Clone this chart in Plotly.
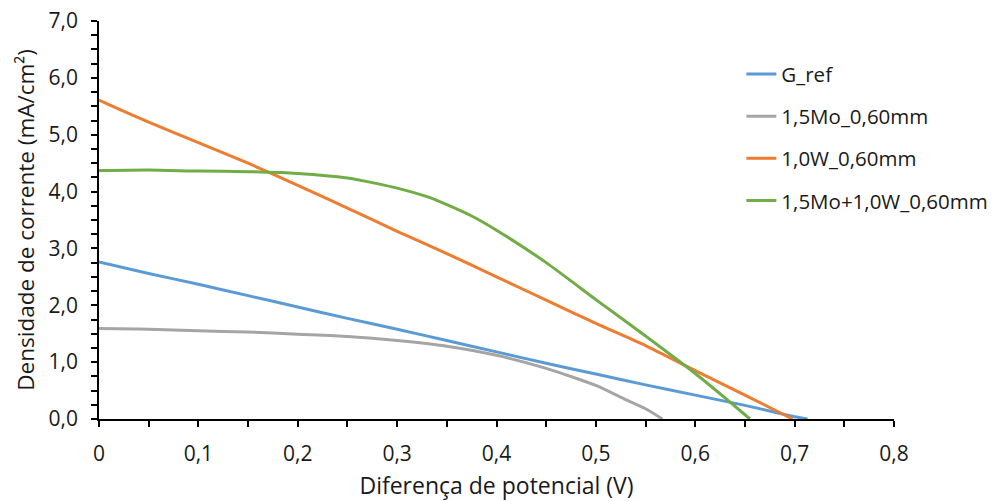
import plotly.graph_objects as go

# Current density vs. potential difference for each sample
v_gref = [0.0, 0.05, 0.1, 0.15, 0.2, 0.25, 0.3, 0.35, 0.4, 0.45, 0.5, 0.55, 0.6, 0.65, 0.68, 0.70, 0.713]
j_gref = [2.76, 2.56, 2.37, 2.17, 1.97, 1.77, 1.58, 1.38, 1.18, 0.98, 0.79, 0.60, 0.42, 0.24, 0.12, 0.04, 0.0]

v_mo = [0.0, 0.05, 0.1, 0.15, 0.2, 0.25, 0.3, 0.35, 0.4, 0.45, 0.5, 0.53, 0.55, 0.567]
j_mo = [1.59, 1.58, 1.55, 1.53, 1.49, 1.45, 1.38, 1.28, 1.12, 0.89, 0.59, 0.34, 0.18, 0.0]

v_w = [0.0, 0.02, 0.05, 0.1, 0.15, 0.2, 0.25, 0.3, 0.35, 0.4, 0.45, 0.5, 0.55, 0.6, 0.65, 0.698]
j_w = [5.61, 5.45, 5.22, 4.86, 4.50, 4.11, 3.71, 3.30, 2.91, 2.50, 2.09, 1.68, 1.29, 0.85, 0.42, 0.0]

v_mow = [0.0, 0.05, 0.1, 0.15, 0.2, 0.25, 0.28, 0.3, 0.33, 0.35, 0.375, 0.4, 0.45, 0.5, 0.55, 0.6, 0.63, 0.655]
j_mow = [4.37, 4.38, 4.36, 4.35, 4.32, 4.24, 4.14, 4.06, 3.91, 3.77, 3.57, 3.32, 2.75, 2.10, 1.46, 0.80, 0.37, 0.0]

names = ["G_ref", "1,5Mo_0,60mm", "1,0W_0,60mm", "1,5Mo+1,0W_0,60mm"]
colors = ["#5B9BD5", "#A5A5A5", "#ED7D31", "#70AD47"]
series = [(v_gref, j_gref), (v_mo, j_mo), (v_w, j_w), (v_mow, j_mow)]

x_ticks = [0, 0.1, 0.2, 0.3, 0.4, 0.5, 0.6, 0.7, 0.8]
x_ticktext = ["0", "0,1", "0,2", "0,3", "0,4", "0,5", "0,6", "0,7", "0,8"]
y_ticks = [0, 1, 2, 3, 4, 5, 6, 7]
y_ticktext = ["0,0", "1,0", "2,0", "3,0", "4,0", "5,0", "6,0", "7,0"]

FONT = "Open Sans, Liberation Sans, sans-serif"
TEXT = "#1a1a1a"

fig = go.Figure()
for (vx, jy), name, color in zip(series, names, colors):
    fig.add_trace(go.Scatter(
        x=vx, y=jy, name=name, mode="lines",
        line=dict(color=color, width=3, shape="spline", smoothing=0.6),
        legendgroup=name,
    ))

axis_common = dict(
    showline=True, linecolor="black", linewidth=1.5,
    showgrid=False, zeroline=False, automargin=False,
    ticks="outside", ticklen=6, tickwidth=1.5, tickcolor="black",
    tickfont=dict(family=FONT, size=21, color=TEXT),
    ticklabelstandoff=9,
)

fig.update_xaxes(
    range=[0, 0.8], tickvals=x_ticks, ticktext=x_ticktext,
    minor=dict(dtick=0.05, tick0=0, ticks="outside", ticklen=6, tickwidth=1.5, tickcolor="black"),
    title=dict(text="Diferença de potencial (V)", font=dict(family=FONT, size=23, color=TEXT), standoff=12),
    **axis_common,
)
fig.update_yaxes(
    range=[0, 7], tickvals=y_ticks, ticktext=y_ticktext,
    minor=dict(dtick=0.25, tick0=0, ticks="outside", ticklen=6, tickwidth=1.5, tickcolor="black"),
    title=dict(text="Densidade de corrente (mA/cm²)", font=dict(family=FONT, size=22.5, color=TEXT), standoff=8),
    **axis_common,
)

fig.update_layout(
    width=1008, height=501,
    margin=dict(l=99, r=114, t=21, b=82),
    plot_bgcolor="white", paper_bgcolor="white",
    font=dict(family=FONT, color=TEXT),
    legend=dict(
        x=0.808, y=0.9165, xanchor="left", yanchor="top",
        font=dict(family=FONT, size=20.5, color=TEXT),
        bgcolor="rgba(0,0,0,0)", tracegroupgap=12.5, itemwidth=30,
    ),
)

fig.write_html("out.html")
